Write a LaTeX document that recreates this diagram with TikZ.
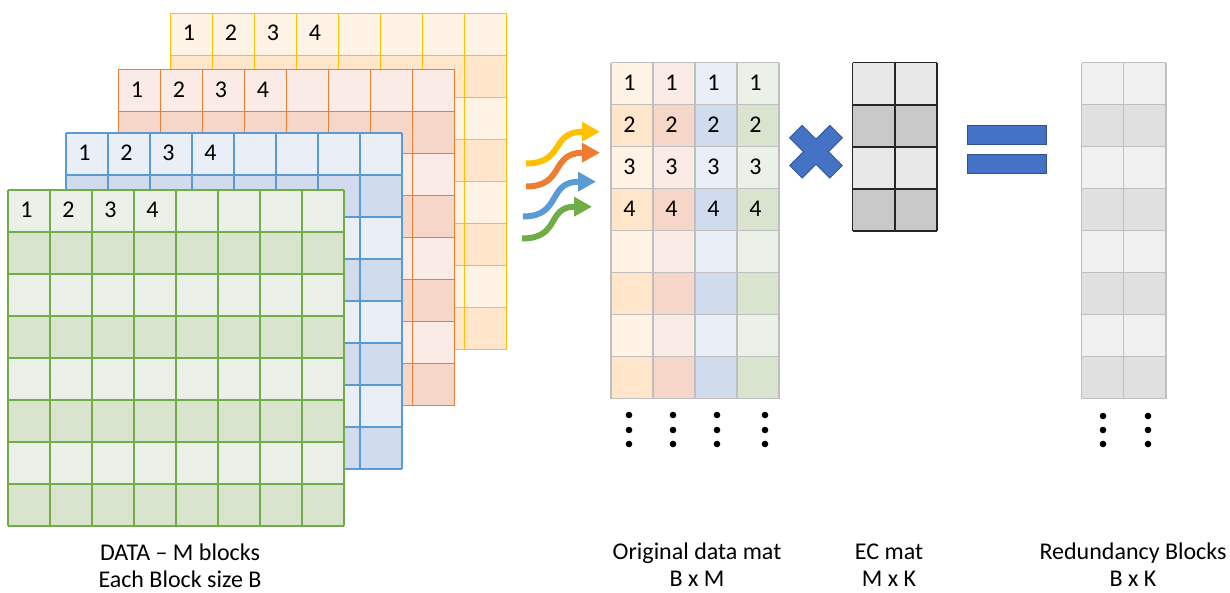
\documentclass[tikz,border=0pt]{standalone}
\usepackage{fontspec}
\setmainfont{Carlito}
\usepackage{tikz}
\usetikzlibrary{arrows.meta}

\definecolor{yelE}{RGB}{255,192,0}
\definecolor{yelL}{RGB}{255,243,230}
\definecolor{yelD}{RGB}{255,230,202}
\definecolor{orgE}{RGB}{237,125,49}
\definecolor{orgL}{RGB}{251,235,230}
\definecolor{orgD}{RGB}{247,214,202}
\definecolor{bluE}{RGB}{91,155,213}
\definecolor{bluL}{RGB}{233,238,247}
\definecolor{bluD}{RGB}{208,220,238}
\definecolor{grnE}{RGB}{112,173,71}
\definecolor{grnL}{RGB}{235,240,232}
\definecolor{grnD}{RGB}{216,228,205}
\definecolor{opBlue}{RGB}{68,114,196}
\definecolor{opEdge}{RGB}{47,82,143}

\begin{document}
\begin{tikzpicture}[x=0.75pt,y=0.75pt,yscale=-1,
  numtxt/.style={anchor=base west,inner sep=0pt,font=\fontsize{18}{20}\selectfont},
  lbl/.style={anchor=base,align=center,inner sep=0pt,font=\fontsize{18}{20}\selectfont},
  flow/.style={line width=4.5pt,-{Triangle[length=13.5pt,width=14pt]}},
  gline/.style={line width=0.8pt}]
\useasboundingbox (0,0) rectangle (1230,592);

%Shape: Stacked data blocks (back to front)
\foreach \gx/\gy/\cl/\cd/\ce/\gname in {170.5/13.5/yelL/yelD/yelE/y,118.5/69.5/orgL/orgD/orgE/o,66/133/bluL/bluD/bluE/b,8/190/grnL/grnD/grnE/g}{
  \fill[\cl] (\gx,\gy) rectangle ++(336,336);
  \foreach \i in {1,3,5,7} \fill[\cd] (\gx,\gy+42*\i) rectangle ++(336,42);
  \foreach \k in {0,...,8}{
    \draw[gline,\ce] (\gx+42*\k,\gy) -- ++(0,336);
    \draw[gline,\ce] (\gx,\gy+42*\k) -- ++(336,0);
  }
  \foreach \n in {1,...,4} \node[numtxt] (\gname n\n) at (\gx+42*\n-30,\gy+27.5) {\n};
}

%Curved Arrows
\foreach \tx/\ty/\hx/\hy/\col in {526/163.5/600/131.7/yelE,526/186.5/600/152.7/orgE,523/216.5/596/181.7/bluE,522/238.5/592/206.7/grnE}
  \draw[flow,\col] (\tx,\ty) .. controls (\tx+39,\ty) and (\tx+24,\hy) .. (\hx-17,\hy) -- (\hx,\hy);

%Shape: Original data matrix
\foreach \c/\cl/\cd in {0/yelL/yelD,1/orgL/orgD,2/bluL/bluD,3/grnL/grnD}{
  \fill[\cl] (611+42*\c,62.7) rectangle ++(42,336);
  \foreach \i in {1,3,5,7} \fill[\cd] (611+42*\c,62.7+42*\i) rectangle ++(42,42);
  \foreach \n in {1,...,4} \node[numtxt] (d\c n\n) at (611+42*\c+12,62.7+42*\n-14) {\n};
}
\foreach \k in {0,...,4} \draw[gline,black!25] (611+42*\k,62.7) -- ++(0,336);
\foreach \k in {0,...,8} \draw[gline,black!25] (611,62.7+42*\k) -- ++(168,0);
\foreach \x in {629,673,717,765}
  \foreach \y in {415,430,444} \fill (\x,\y) circle (3.3);

%Shape: Multiply sign
\begin{scope}[shift={(816,151.7)},rotate=45]
\filldraw[fill=opBlue,draw=opEdge,line width=0.6pt] (28.4,8.85) -- (8.85,8.85) -- (8.85,28.4) -- (-8.85,28.4) -- (-8.85,8.85) -- (-28.4,8.85) -- (-28.4,-8.85) -- (-8.85,-8.85) -- (-8.85,-28.4) -- (8.85,-28.4) -- (8.85,-8.85) -- (28.4,-8.85) -- cycle;
\end{scope}

%Shape: EC matrix
\foreach \i in {0,2} \fill[black!9] (852.7,62.7+42*\i) rectangle ++(84.3,42);
\foreach \i in {1,3} \fill[black!21] (852.7,62.7+42*\i) rectangle ++(84.3,42);
\foreach \k in {0,1,2} \draw[line width=1.1pt,black!85] (852.7+42.15*\k,62.7) -- ++(0,168.3);
\foreach \k in {0,...,4} \draw[line width=1.1pt,black!85] (852.7,62.7+42.07*\k) -- ++(84.3,0);

%Shape: Equals sign
\filldraw[fill=opBlue,draw=opEdge,line width=0.6pt] (967,125) rectangle (1046,144.3);
\filldraw[fill=opBlue,draw=opEdge,line width=0.6pt] (967,154) rectangle (1046,173.3);

%Shape: Redundancy matrix
\foreach \i in {0,2,4,6} \fill[black!6] (1081.7,62.7+42*\i) rectangle ++(84.3,42);
\foreach \i in {1,3,5,7} \fill[black!12] (1081.7,62.7+42*\i) rectangle ++(84.3,42);
\foreach \k in {0,1,2} \draw[gline,black!25] (1081.7+42.15*\k,62.7) -- ++(0,336);
\foreach \k in {0,...,8} \draw[gline,black!25] (1081.7,62.7+42*\k) -- ++(84.3,0);
\foreach \x in {1103,1148}
  \foreach \y in {416,430,444} \fill (\x,\y) circle (3.3);

% Text Node (base = last line)
\node[lbl] (datalbl) at (180,587) {DATA – M blocks\\Each Block size B};
\node[lbl] (origlbl) at (697,586) {Original data mat\\B x M};
\node[lbl] (eclbl) at (889,586) {EC mat\\M x K};
\node[lbl] (redlbl) at (1133,586) {Redundancy Blocks\\B x K};

\end{tikzpicture}
\end{document}
